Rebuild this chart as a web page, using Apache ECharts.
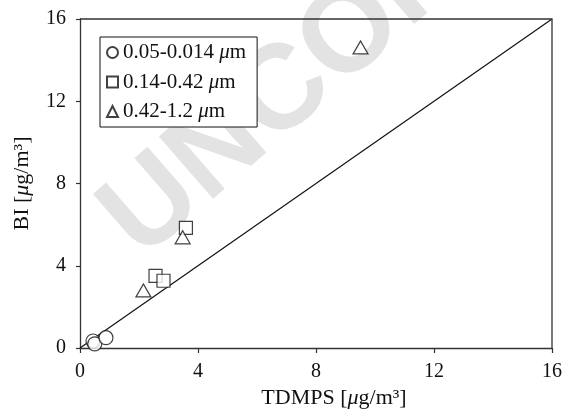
<!DOCTYPE html>
<html>
<head>
<meta charset="utf-8">
<script src="https://cdn.jsdelivr.net/npm/echarts@6/dist/echarts.min.js"></script>
<style>
  html, body { margin: 0; padding: 0; background: #fff; }
  #chart { width: 565px; height: 416px; }
</style>
</head>
<body>
<div id="chart"></div>
<script>
// TDMPS vs BI mass concentration for three particle size ranges
const sizeRanges = ['0.05-0.014', '0.14-0.42', '0.42-1.2'];
const smallTDMPS = [0.44, 0.50, 0.88];
const smallBI = [0.34, 0.20, 0.50];
const midTDMPS = [3.59, 2.56, 2.83];
const midBI = [5.84, 3.51, 3.27];
const largeTDMPS = [3.48, 2.15, 9.51];
const largeBI = [5.38, 2.80, 14.62];
// 1:1 reference line
const oneToOneX = [0, 16];
const oneToOneY = [0, 16];
const axisTicks = [0, 4, 8, 12, 16];

const FONT = '"Liberation Serif", "Times New Roman", serif';
const pairs = (xs, ys) => xs.map((x, i) => [x, ys[i]]);

const markerStyle = { color: '#fff', borderColor: '#111', borderWidth: 1.2 };
const legendName = r => r + ' μm';

const watermark = {
  type: 'text',
  z: -10,
  x: 120,
  y: 236,
  rotation: 41 * Math.PI / 180,
  silent: true,
  style: {
    text: 'UNCORRECTED PROOF',
    fill: '#e3e3e3',
    font: 'bold 120px "Liberation Sans", Arial, sans-serif',
    textAlign: 'left',
    textVerticalAlign: 'middle'
  }
};

const chart = echarts.init(document.getElementById('chart'), null, { renderer: 'canvas' });

chart.setOption({
  animation: false,
  backgroundColor: '#fff',
  textStyle: { fontFamily: FONT },
  graphic: [watermark],
  grid: { left: 80, right: 13, top: 19, bottom: 68, show: false },
  legend: {
    orient: 'vertical',
    left: 100,
    top: 37,
    padding: [5, 11, 5, 6],
    itemGap: 8.5,
    itemWidth: 11,
    itemHeight: 11,
    borderColor: '#111',
    borderWidth: 1,
    backgroundColor: '#fff',
    data: sizeRanges.map(legendName),
    formatter: name => '{n|' + name.replace(' μm', ' ') + '}{i|μ}{n|m}',
    textStyle: {
      color: '#111',
      rich: {
        n: { fontFamily: FONT, fontSize: 21, color: '#111' },
        i: { fontFamily: FONT, fontSize: 21, fontStyle: 'italic', color: '#111' }
      }
    }
  },
  xAxis: {
    type: 'value',
    min: axisTicks[0],
    max: axisTicks[axisTicks.length - 1],
    interval: 4,
    name: 'TDMPS [{i|μ}g/m³]',
    nameLocation: 'middle',
    nameGap: 36,
    nameTextStyle: {
      fontFamily: FONT, fontSize: 22, color: '#111',
      padding: [0, 0, 0, 36],
      rich: { i: { fontFamily: FONT, fontSize: 22, fontStyle: 'italic', color: '#111' } }
    },
    axisLine: { show: true, lineStyle: { color: '#333', width: 1.3 } },
    axisTick: { show: true, inside: false, length: 5, lineStyle: { color: '#333', width: 1.2 } },
    axisLabel: { margin: 14, fontFamily: FONT, fontSize: 20, color: '#111' },
    splitLine: { show: false }
  },
  yAxis: {
    type: 'value',
    min: axisTicks[0],
    max: axisTicks[axisTicks.length - 1],
    interval: 4,
    name: 'BI [{i|μ}g/m³]',
    nameLocation: 'middle',
    nameGap: 47,
    nameRotate: 90,
    nameTextStyle: {
      fontFamily: FONT, fontSize: 22, color: '#111',
      rich: { i: { fontFamily: FONT, fontSize: 22, fontStyle: 'italic', color: '#111' } }
    },
    axisLine: { show: true, lineStyle: { color: '#333', width: 1.3 } },
    axisTick: { show: true, inside: false, length: 4, lineStyle: { color: '#333', width: 1.2 } },
    axisLabel: { margin: 14, fontFamily: FONT, fontSize: 20, color: '#111' },
    splitLine: { show: false }
  },
  series: [
    {
      type: 'line',
      data: pairs(oneToOneX, oneToOneY),
      showSymbol: false,
      symbol: 'none',
      lineStyle: { color: '#111', width: 1.2 },
      z: 1,
      silent: true
    },
    {
      name: legendName(sizeRanges[0]),
      type: 'scatter',
      symbol: 'circle',
      symbolSize: 14,
      data: pairs(smallTDMPS, smallBI),
      itemStyle: markerStyle,
      z: 3
    },
    {
      name: legendName(sizeRanges[1]),
      type: 'scatter',
      symbol: 'rect',
      symbolSize: 13,
      data: pairs(midTDMPS, midBI),
      itemStyle: markerStyle,
      z: 4
    },
    {
      name: legendName(sizeRanges[2]),
      type: 'scatter',
      symbol: 'triangle',
      symbolSize: [15, 13],
      data: pairs(largeTDMPS, largeBI),
      itemStyle: markerStyle,
      z: 5
    }
  ]
});

// Frame lines along the top and right edges of the plot
const g = chart.getModel().getComponent('grid').coordinateSystem.getRect();
chart.setOption({
  graphic: [watermark, {
    type: 'polyline', z: 10, silent: true,
    shape: { points: [[g.x, g.y], [g.x + g.width, g.y], [g.x + g.width, g.y + g.height]] },
    style: { stroke: '#333', lineWidth: 1.3, fill: null }
  }]
});
</script>
</body>
</html>
